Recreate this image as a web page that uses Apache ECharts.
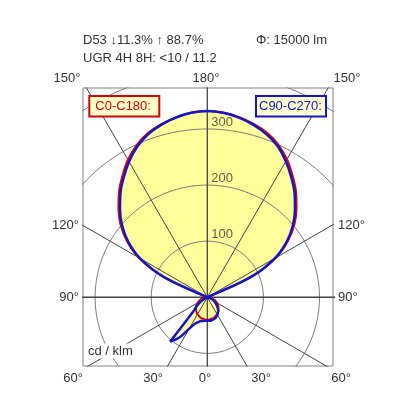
<!DOCTYPE html>
<html>
<head>
<meta charset="utf-8">
<script src="https://cdn.jsdelivr.net/npm/echarts@6/dist/echarts.min.js"></script>
<style>
html, body { margin: 0; padding: 0; background: #fff; }
#main { width: 416px; height: 416px; }
</style>
</head>
<body>
<div id="main"></div>
<script>
// gamma angle from nadir (deg)
var gamma = [0, 5, 10, 15, 20, 25, 30, 35, 40, 45, 50, 55, 60, 65, 70, 75, 80, 85, 90,
    95, 100, 105, 110, 115, 120, 125, 130, 135, 140, 145, 150, 155, 160, 165, 170, 175, 180]
// C0-C180 plane (cd/klm)
var c0 = [40, 40, 39, 39, 38, 36, 35, 33, 31, 28, 26, 23, 20, 17, 14, 10, 7, 3, 0,
    0, 0, 1, 4, 89, 142, 176, 203, 225, 246, 265, 284, 300, 312, 320, 326, 330, 332]
var c180 = [40, 40, 39, 39, 38, 36, 35, 33, 31, 28, 26, 23, 20, 17, 14, 10, 7, 3, 0,
    0, 0, 1, 4, 88, 141, 175, 202, 224, 245, 264, 283, 299, 311, 319, 325, 330, 332]
// C90-C270 plane (cd/klm)
var c90 = [42, 42, 42, 41, 40, 38, 36, 33, 30, 26, 22, 18, 14, 11, 7, 4, 2, 1, 0,
    0, 0, 1, 3, 86, 139, 173, 199, 221, 242, 261, 280, 297, 309, 318, 325, 330, 332]
var c270 = [42, 42, 43, 44, 47, 52, 65, 88, 103, 35, 25, 17, 8, 4, 2, 1, 0, 0, 0,
    0, 0, 1, 3, 85, 138, 172, 198, 220, 241, 260, 279, 296, 309, 318, 325, 330, 332]

var rings = [100, 200, 300, 400]
var ringLabels = ['100', '200', '300']
var spokes = [0, 30, 60, 90, 120, 150]
var angleLabels = ['150°', '180°', '150°', '120°', '120°', '90°', '90°', '60°', '30°', '0°', '30°', '60°']
var headerLines = ['D53 ↓11.3% ↑ 88.7%', 'UGR 4H 8H: <10 / 11.2', 'Φ: 15000 lm']
var unitLabel = 'cd / klm'
var planeNames = ['C0-C180:', 'C90-C270:']

var FONT = '13px "Liberation Sans", Arial, sans-serif'
var SMOOTH = 0.35
var rad = Math.PI / 180

// polar curve -> xy (right half ascending, left half descending)
function curve(right, left) {
    var pts = []
    gamma.forEach(function (g, i) {
        pts.push([right[i] * Math.sin(g * rad), -right[i] * Math.cos(g * rad)])
    })
    for (var i = gamma.length - 1; i >= 0; i--) {
        pts.push([-left[i] * Math.sin(gamma[i] * rad), -left[i] * Math.cos(gamma[i] * rad)])
    }
    return pts
}
var redPts = curve(c0, c180)
var bluePts = curve(c90, c270)

var series = []

// yellow fill
series.push({
    type: 'custom',
    coordinateSystem: 'cartesian2d',
    data: [[0, 0]],
    z: 1,
    silent: true,
    renderItem: function (params, api) {
        function poly(pts) {
            return {
                type: 'polygon',
                shape: { points: pts.map(function (p) { return api.coord(p) }), smooth: SMOOTH },
                style: { fill: '#ffff9c', stroke: null }
            }
        }
        return { type: 'group', children: [poly(redPts), poly(bluePts)] }
    }
})

// circles
rings.forEach(function (r) {
    var pts = []
    for (var a = 0; a <= 360; a += 2) {
        pts.push([r * Math.cos(a * rad), r * Math.sin(a * rad)])
    }
    series.push({
        type: 'line', data: pts, showSymbol: false, silent: true, z: 2, clip: true,
        lineStyle: { color: '#7a7a7a', width: 1 }
    })
})

// spokes through the centre
spokes.forEach(function (g) {
    var L = 1000
    var dx = L * Math.sin(g * rad), dy = -L * Math.cos(g * rad)
    series.push({
        type: 'line', data: [[-dx, -dy], [dx, dy]], showSymbol: false, silent: true, z: 2, clip: true,
        lineStyle: { color: '#444', width: (g % 90 == 0) ? 1.3 : 1 }
    })
})

// ring values
series.push({
    type: 'scatter',
    data: ringLabels.map(function (t) { return [0, Number(t)] }),
    symbolSize: 0,
    silent: true,
    z: 4,
    label: {
        show: true,
        position: 'right',
        offset: [-1, -7],
        color: '#333',
        fontSize: 13,
        fontFamily: '"Liberation Sans", Arial, sans-serif',
        formatter: function (p) { return ringLabels[p.dataIndex] }
    }
})

// curves
series.push({
    type: 'line', data: redPts, showSymbol: false, silent: true, z: 5, clip: true, smooth: SMOOTH,
    lineStyle: { color: '#e00000', width: 2 }
})
series.push({
    type: 'line', data: bluePts, showSymbol: false, silent: true, z: 6, clip: true, smooth: SMOOTH,
    lineStyle: { color: '#1414c8', width: 2.5 }
})

// label positions (pixels)
var anglePos = [
    [67, 78, 'center'], [206, 78, 'center'], [347, 78, 'center'],
    [79, 225, 'right'], [338, 225, 'left'],
    [79, 297, 'right'], [338, 297, 'left'],
    [73, 378, 'center'], [153, 378, 'center'], [205, 378, 'center'], [261, 378, 'center'], [341, 378, 'center']
]
var graphic = []
angleLabels.forEach(function (t, i) {
    var p = anglePos[i]
    graphic.push({
        type: 'text', x: p[0], y: p[1],
        style: { text: t, font: FONT, fill: '#333', align: p[2], verticalAlign: 'middle' }
    })
})
graphic.push({ type: 'text', x: 83, y: 40, style: { text: headerLines[0], font: FONT, fill: '#333', verticalAlign: 'middle' } })
graphic.push({ type: 'text', x: 83, y: 58, style: { text: headerLines[1], font: FONT, fill: '#333', verticalAlign: 'middle' } })
graphic.push({ type: 'text', x: 256, y: 40, style: { text: headerLines[2], font: FONT, fill: '#333', verticalAlign: 'middle' } })
graphic.push({
    type: 'text', x: 86, y: 351, z: 100, zlevel: 1,
    style: { text: unitLabel, font: FONT, fill: '#333', verticalAlign: 'middle', backgroundColor: '#fff', padding: [1, 2] }
})

// plane boxes
var boxColors = ['#d40000', '#1414c8']
var boxX = [89.3, 256]
planeNames.forEach(function (t, i) {
    graphic.push({
        type: 'group', x: boxX[i], y: 96, z: 100, zlevel: 1,
        children: [
            { type: 'rect', z: 100, zlevel: 1, shape: { x: 0, y: 0, width: 70, height: 20.5 },
              style: { fill: '#ffffcc', stroke: boxColors[i], lineWidth: 2 } },
            { type: 'text', z: 101, zlevel: 1, x: i == 0 ? 6 : 3, y: 10.5,
              style: { text: t, font: FONT, fill: boxColors[i], verticalAlign: 'middle' } }
        ]
    })
})

var myChart = echarts.init(document.getElementById('main'))
var option = {
    animation: false,
    backgroundColor: '#fff',
    grid: {
        left: 83, top: 88, width: 250, height: 278,
        show: true, borderColor: '#808080', borderWidth: 1, backgroundColor: 'transparent'
    },
    xAxis: {
        type: 'value', min: -221.6, max: 224.1, show: false,
        splitLine: { show: false }
    },
    yAxis: {
        type: 'value', min: -122.5, max: 373, show: false,
        splitLine: { show: false }
    },
    graphic: graphic,
    series: series
}
myChart.setOption(option)
</script>
</body>
</html>
